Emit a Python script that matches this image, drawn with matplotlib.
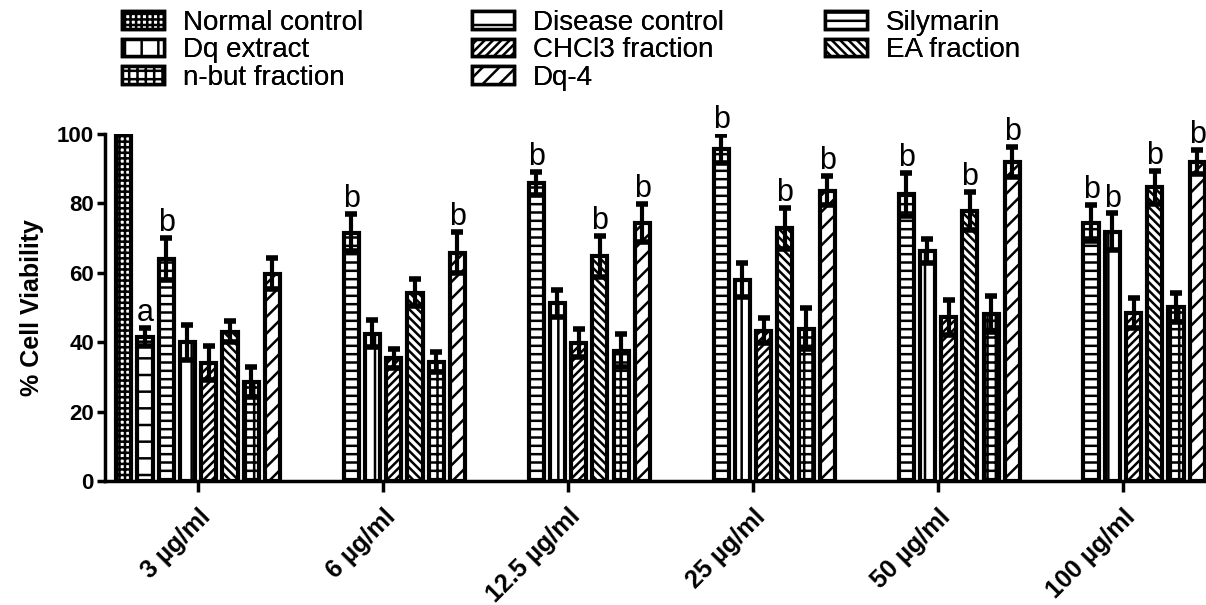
import numpy as np
import matplotlib.pyplot as plt
from matplotlib.patches import Patch

plt.rcParams['font.family'] = ['Liberation Sans', 'DejaVu Sans']
plt.rcParams['hatch.linewidth'] = 1.8

groups = ['3 µg/ml', '6 µg/ml', '12.5 µg/ml', '25 µg/ml', '50 µg/ml', '100 µg/ml']

# only measured at the first concentration
normal = [100]
normal_err = [0]
normal_sig = ['']
disease = [41.5]
disease_err = [2.5]
disease_sig = ['a']

silymarin = [64, 71.6, 85.8, 95.6, 82.6, 74.4]
silymarin_err = [6, 5.3, 3.3, 4.1, 6.1, 5.1]
silymarin_sig = ['b', 'b', 'b', 'b', 'b', 'b']
dq_extract = [40, 42.5, 51.2, 57.9, 66.3, 71.9]
dq_extract_err = [5, 4, 3.8, 4.8, 3.4, 5.2]
dq_extract_sig = ['', '', '', '', '', 'b']
chcl3 = [34, 35.3, 39.7, 43.3, 47.2, 48.3]
chcl3_err = [5, 2.8, 4, 3.6, 5, 4.3]
chcl3_sig = ['', '', '', '', '', '']
ea = [43, 54.3, 64.8, 72.8, 77.8, 84.6]
ea_err = [3, 3.8, 5.9, 5.8, 5.6, 4.8]
ea_sig = ['', '', 'b', 'b', 'b', 'b']
nbut = [28.6, 34.3, 37.6, 43.9, 48.1, 50]
nbut_err = [4.3, 2.8, 4.8, 5.9, 5.2, 4.3]
nbut_sig = ['', '', '', '', '', '']
dq4 = [59.7, 65.8, 74.3, 83.7, 92, 92]
dq4_err = [4.5, 6, 5.4, 4.2, 4.3, 3.4]
dq4_sig = ['', 'b', 'b', 'b', 'b', 'b']

names = ['Normal control', 'Disease control', 'Silymarin', 'Dq extract',
         'CHCl3 fraction', 'EA fraction', 'n-but fraction', 'Dq-4']
vals = [normal, disease, silymarin, dq_extract, chcl3, ea, nbut, dq4]
errs = [normal_err, disease_err, silymarin_err, dq_extract_err, chcl3_err, ea_err, nbut_err, dq4_err]
sigs = [normal_sig, disease_sig, silymarin_sig, dq_extract_sig, chcl3_sig, ea_sig, nbut_sig, dq4_sig]
hatches = ['+++', '-', '--', '|', '////', '\\\\\\\\', '++', '//']

fig = plt.figure(figsize=(12.06, 6.05), dpi=100)
ax = fig.add_axes([0.0871, 0.205, 0.9129, 0.5735])

step = 0.1149
width = 0.082
for i in range(8):
    n = len(vals[i])
    x = np.arange(n) + (i - 3.5) * step
    ax.bar(x, vals[i], width, facecolor='white', edgecolor='black',
           hatch=hatches[i], linewidth=3, zorder=2)
    ax.errorbar(x, vals[i], yerr=errs[i], fmt='none', ecolor='black',
                elinewidth=3, capsize=4.5, capthick=4, zorder=3)
    for j in range(n):
        if sigs[i][j]:
            ax.annotate(sigs[i][j], (x[j], vals[i][j] + errs[i][j]),
                        xytext=(0, 5), textcoords='offset points',
                        ha='center', va='baseline', fontsize=22,
                        annotation_clip=False)

ax.set_xlim(-0.503, 5.449)
ax.set_ylim(0, 100)
ax.set_yticks([0, 20, 40, 60, 80, 100])
ax.set_xticks(range(len(groups)))
ax.set_xticklabels(groups, rotation=45, ha='right', rotation_mode='anchor',
                   fontsize=18, fontweight='bold')
for lab in ax.get_yticklabels():
    lab.set_fontsize(16)
    lab.set_fontweight('bold')
ax.tick_params(axis='y', length=6, width=2.5, pad=2)
ax.tick_params(axis='x', length=8, width=2.5, pad=9)
ax.spines['top'].set_visible(False)
ax.spines['right'].set_visible(False)
ax.spines['left'].set_linewidth(2.5)
ax.spines['bottom'].set_linewidth(2.5)
ax.set_ylabel('% Cell Viability', fontsize=18, fontweight='bold', labelpad=9)

# legend written row by row in three columns
cols = [[0, 3, 6], [1, 4, 7], [2, 5]]
col_x = [122, 472, 825]
for c in range(3):
    handles = [Patch(facecolor='white', edgecolor='black', hatch=hatches[k],
                     linewidth=2.5) for k in cols[c]]
    leg = fig.legend(handles, [names[k] for k in cols[c]], loc='upper left',
                     bbox_to_anchor=(col_x[c] / 1206, 1 - 10 / 605),
                     frameon=False, fontsize=20, handlelength=1.5,
                     handleheight=0.6, handletextpad=0.7, labelspacing=0.05,
                     borderpad=0, borderaxespad=0)
    fig.add_artist(leg)

fig.savefig('out.png', dpi=100)
